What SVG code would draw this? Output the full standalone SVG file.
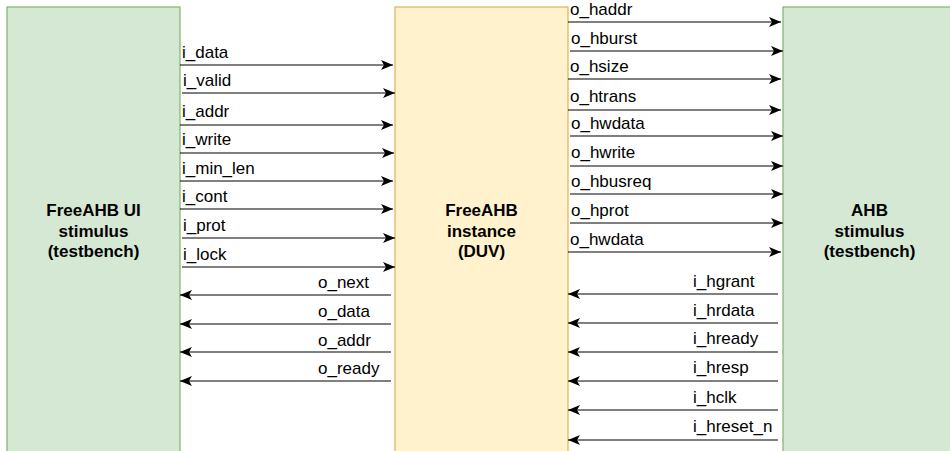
<svg xmlns="http://www.w3.org/2000/svg" width="950" height="451" viewBox="0 0 950 451">
  <style>
    .tb { fill: #d5e8d4; stroke: #82b366; stroke-width: 1.2; }
    .duv { fill: #fff2cc; stroke: #d6b656; stroke-width: 1.2; }
    .title { font-family: "Liberation Sans", Arial, Helvetica, sans-serif; font-size: 17px; font-weight: bold; fill: #000; text-anchor: middle; }
    .sig { font-family: "Liberation Sans", Arial, Helvetica, sans-serif; font-size: 17px; fill: #000; }
    .wire { fill: none; stroke: #000; stroke-width: 1.2; marker-end: url(#arrow); }
  </style>
  <defs>
    <marker id="arrow" viewBox="0 0 12 10" refX="12" refY="5" markerWidth="12" markerHeight="10" markerUnits="userSpaceOnUse" orient="auto">
      <path d="M0,0 L12,5 L0,10 L3,5 Z" fill="#000"/>
    </marker>
  </defs>

  <rect width="950" height="451" fill="#ffffff"/>

  <!-- user-interface stimulus block -->
  <g id="ui_stimulus">
    <rect class="tb" x="7" y="7" width="173" height="460"/>
    <text class="title" x="93.5" y="216">FreeAHB UI</text>
    <text class="title" x="93.5" y="236.5">stimulus</text>
    <text class="title" x="93.5" y="257">(testbench)</text>
  </g>

  <!-- device under verification -->
  <g id="duv">
    <rect class="duv" x="395" y="7" width="173" height="460"/>
    <text class="title" x="481.5" y="216">FreeAHB</text>
    <text class="title" x="481.5" y="236.5">instance</text>
    <text class="title" x="481.5" y="257">(DUV)</text>
  </g>

  <!-- AHB bus stimulus block -->
  <g id="ahb_stimulus">
    <rect class="tb" x="783" y="7" width="173" height="460"/>
    <text class="title" x="869.5" y="216">AHB</text>
    <text class="title" x="869.5" y="236.5">stimulus</text>
    <text class="title" x="869.5" y="257">(testbench)</text>
  </g>

  <!-- signal wires -->
  <g id="connectors">
    <!-- UI -> DUV -->
    <line class="wire" x1="180" y1="65" x2="393" y2="65"/>
    <line class="wire" x1="182" y1="93" x2="395" y2="93"/>
    <line class="wire" x1="180" y1="125" x2="393" y2="125"/>
    <line class="wire" x1="180" y1="153" x2="394" y2="153"/>
    <line class="wire" x1="180" y1="181" x2="393" y2="181"/>
    <line class="wire" x1="180" y1="209" x2="393" y2="209"/>
    <line class="wire" x1="182" y1="238" x2="395" y2="238"/>
    <line class="wire" x1="182" y1="267" x2="395" y2="267"/>
    <!-- DUV -> UI -->
    <line class="wire" x1="391" y1="295" x2="180" y2="295"/>
    <line class="wire" x1="391" y1="324" x2="180" y2="324"/>
    <line class="wire" x1="391" y1="352" x2="180" y2="352"/>
    <line class="wire" x1="391" y1="381" x2="180" y2="381"/>
    <!-- DUV -> AHB -->
    <line class="wire" x1="568" y1="22" x2="781" y2="22"/>
    <line class="wire" x1="570" y1="51" x2="783" y2="51"/>
    <line class="wire" x1="568" y1="79" x2="781" y2="79"/>
    <line class="wire" x1="568" y1="110" x2="781" y2="110"/>
    <line class="wire" x1="570" y1="136" x2="783" y2="136"/>
    <line class="wire" x1="570" y1="166" x2="783" y2="166"/>
    <line class="wire" x1="570" y1="194" x2="783" y2="194"/>
    <line class="wire" x1="570" y1="223" x2="783" y2="223"/>
    <line class="wire" x1="568" y1="252" x2="781" y2="252"/>
    <!-- AHB -> DUV -->
    <line class="wire" x1="778" y1="294" x2="568" y2="294"/>
    <line class="wire" x1="778" y1="323" x2="568" y2="323"/>
    <line class="wire" x1="778" y1="352" x2="568" y2="352"/>
    <line class="wire" x1="778" y1="381" x2="568" y2="381"/>
    <line class="wire" x1="778" y1="410" x2="568" y2="410"/>
    <line class="wire" x1="778" y1="440" x2="568" y2="440"/>
  </g>

  <!-- signal names -->
  <g id="labels">
    <text class="sig" x="182" y="58">i_data</text>
    <text class="sig" x="183" y="86">i_valid</text>
    <text class="sig" x="182" y="117">i_addr</text>
    <text class="sig" x="182" y="145">i_write</text>
    <text class="sig" x="182" y="174">i_min_len</text>
    <text class="sig" x="182" y="202">i_cont</text>
    <text class="sig" x="183" y="231">i_prot</text>
    <text class="sig" x="183" y="260">i_lock</text>
    <text class="sig" x="318" y="288">o_next</text>
    <text class="sig" x="318" y="317">o_data</text>
    <text class="sig" x="318" y="346">o_addr</text>
    <text class="sig" x="318" y="374">o_ready</text>

    <text class="sig" x="570" y="15">o_haddr</text>
    <text class="sig" x="571" y="44">o_hburst</text>
    <text class="sig" x="570" y="72">o_hsize</text>
    <text class="sig" x="570" y="102">o_htrans</text>
    <text class="sig" x="571" y="129">o_hwdata</text>
    <text class="sig" x="571" y="158">o_hwrite</text>
    <text class="sig" x="571" y="187">o_hbusreq</text>
    <text class="sig" x="571" y="216">o_hprot</text>
    <text class="sig" x="570" y="245">o_hwdata</text>
    <text class="sig" x="693" y="287">i_hgrant</text>
    <text class="sig" x="693" y="316">i_hrdata</text>
    <text class="sig" x="693" y="344">i_hready</text>
    <text class="sig" x="693" y="373">i_hresp</text>
    <text class="sig" x="693" y="403">i_hclk</text>
    <text class="sig" x="693" y="432">i_hreset_n</text>
  </g>
</svg>
